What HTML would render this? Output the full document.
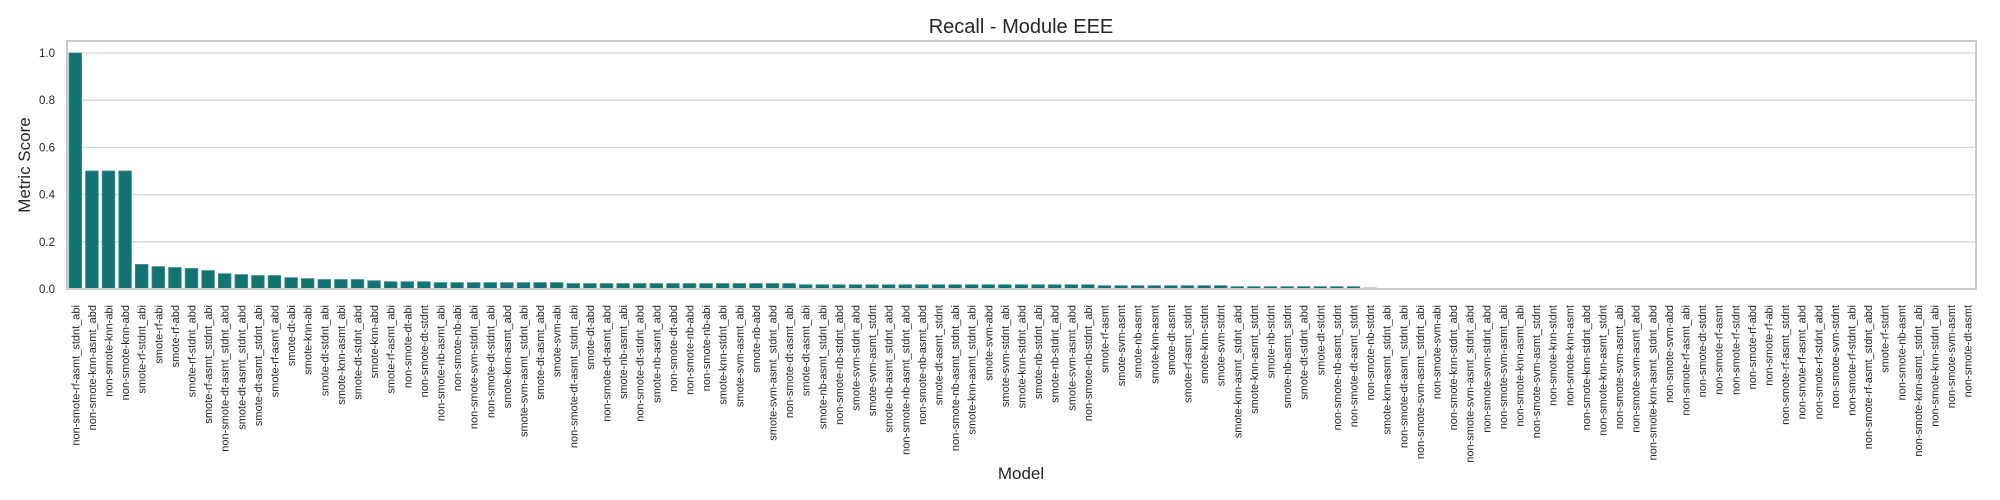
<!DOCTYPE html>
<html><head><meta charset="utf-8">
<style>
html,body{margin:0;padding:0;background:#fff;}
svg{display:block;font-family:"Liberation Sans",Arial,sans-serif;}
</style></head>
<body>
<svg id="chart" width="2000" height="500" viewBox="0 0 2000 500" xmlns="http://www.w3.org/2000/svg">
  <rect x="0" y="0" width="2000" height="500" fill="#ffffff"/>
  <g id="grid"></g>
  <g id="bars"></g>
  <rect x="67" y="41" width="1909" height="248" fill="none" stroke="#cccccc" stroke-width="2"/>
  <g id="yticks"></g>
  <g id="xticks"></g>
  <text x="1021" y="33" text-anchor="middle" font-size="20" fill="#262626">Recall - Module EEE</text>
  <text transform="translate(30,165) rotate(-90)" text-anchor="middle" font-size="17" fill="#262626">Metric Score</text>
  <text x="1021" y="479" text-anchor="middle" font-size="17" fill="#262626">Model</text>
</svg>
<script>
const categories = [
"non-smote-rf-asmt_stdnt_abi","non-smote-knn-asmt_abd","non-smote-knn-abi","non-smote-knn-abd","smote-rf-stdnt_abi",
"smote-rf-abi","smote-rf-abd","smote-rf-stdnt_abd","smote-rf-asmt_stdnt_abi","non-smote-dt-asmt_stdnt_abd",
"smote-dt-asmt_stdnt_abd","smote-dt-asmt_stdnt_abi","smote-rf-asmt_abd","smote-dt-abi","smote-knn-abi",
"smote-dt-stdnt_abi","smote-knn-asmt_abi","smote-dt-stdnt_abd","smote-knn-abd","smote-rf-asmt_abi",
"non-smote-dt-abi","non-smote-dt-stdnt","non-smote-nb-asmt_abi","non-smote-nb-abi","non-smote-svm-stdnt_abi",
"non-smote-dt-stdnt_abi","smote-knn-asmt_abd","smote-svm-asmt_stdnt_abi","smote-dt-asmt_abd","smote-svm-abi",
"non-smote-dt-asmt_stdnt_abi","smote-dt-abd","non-smote-dt-asmt_abd","smote-nb-asmt_abi","non-smote-dt-stdnt_abd",
"smote-nb-asmt_abd","non-smote-dt-abd","non-smote-nb-abd","non-smote-nb-abi","smote-knn-stdnt_abi",
"smote-svm-asmt_abi","smote-nb-abd","smote-svm-asmt_stdnt_abd","non-smote-dt-asmt_abi","smote-dt-asmt_abi",
"smote-nb-asmt_stdnt_abi","non-smote-nb-stdnt_abd","smote-svm-stdnt_abd","smote-svm-asmt_stdnt","smote-nb-asmt_stdnt_abd",
"non-smote-nb-asmt_stdnt_abd","non-smote-nb-asmt_abd","smote-dt-asmt_stdnt","non-smote-nb-asmt_stdnt_abi","smote-knn-asmt_stdnt_abi",
"smote-svm-abd","smote-svm-stdnt_abi","smote-knn-stdnt_abd","smote-nb-stdnt_abi","smote-nb-stdnt_abd",
"smote-svm-asmt_abd","non-smote-nb-stdnt_abi","smote-rf-asmt","smote-svm-asmt","smote-nb-asmt",
"smote-knn-asmt","smote-dt-asmt","smote-rf-asmt_stdnt","smote-knn-stdnt","smote-svm-stdnt",
"smote-knn-asmt_stdnt_abd","smote-knn-asmt_stdnt","smote-nb-stdnt","smote-nb-asmt_stdnt","smote-dt-stdnt_abd2",
"smote-dt-stdnt","non-smote-nb-asmt_stdnt","non-smote-dt-asmt_stdnt","non-smote-nb-stdnt","smote-knn-asmt_stdnt_abi2",
"non-smote-dt-asmt_stdnt_abi2","non-smote-svm-asmt_stdnt_abi","non-smote-svm-abi","non-smote-knn-stdnt_abd","non-smote-svm-asmt_stdnt_abd",
"non-smote-svm-stdnt_abd","non-smote-svm-asmt_abi","non-smote-knn-asmt_abi","non-smote-svm-asmt_stdnt","non-smote-knn-stdnt",
"non-smote-knn-asmt","non-smote-knn-stdnt_abd2","non-smote-knn-asmt_stdnt","non-smote-svm-asmt_abi2","non-smote-svm-asmt_abd",
"non-smote-knn-asmt_stdnt_abd","non-smote-svm-abd","non-smote-rf-asmt_abi","non-smote-dt-stdnt2","non-smote-rf-asmt",
"non-smote-rf-stdnt","non-smote-rf-abd","non-smote-rf-abi","non-smote-rf-asmt_stdnt","non-smote-rf-asmt_abd",
"non-smote-rf-stdnt_abd","non-smote-svm-stdnt","non-smote-rf-stdnt_abi","non-smote-rf-asmt_stdnt_abd","smote-rf-stdnt",
"non-smote-nb-asmt","non-smote-knn-asmt_stdnt_abi","non-smote-knn-stdnt_abi","non-smote-svm-asmt","non-smote-dt-asmt"
];
const recallValues = [
1.0,0.5,0.5,0.5,0.104,0.095,0.091,0.087,0.078,0.065,
0.061,0.057,0.057,0.048,0.044,0.040,0.040,0.040,0.035,0.031,
0.031,0.031,0.027,0.027,0.027,0.027,0.027,0.027,0.027,0.027,
0.023,0.023,0.023,0.023,0.023,0.023,0.023,0.023,0.023,0.023,
0.023,0.023,0.023,0.023,0.018,0.018,0.018,0.018,0.018,0.018,
0.018,0.018,0.018,0.018,0.018,0.018,0.018,0.018,0.018,0.018,
0.018,0.018,0.014,0.014,0.014,0.014,0.014,0.014,0.014,0.014,
0.010,0.010,0.010,0.010,0.010,0.010,0.010,0.010,0.004,0,
0,0,0,0,0,0,0,0,0,0,
0,0,0,0,0,0,0,0,0,0,
0,0,0,0,0,0,0,0,0,0,
0,0,0,0
];
const yTickValues = [0,0.2,0.4,0.6,0.8,1.0];
const yTickLabels = ["0.0","0.2","0.4","0.6","0.8","1.0"];

const NS = "http://www.w3.org/2000/svg";
const plotL = 67, plotR = 1976, y0 = 289, y1 = 53;
const n = categories.length;
const step = (plotR - plotL) / n;
function xScale(i){ return plotL + step * (i + 0.5); }
function yScale(v){ return y0 - (y0 - y1) * v; }

const grid = document.getElementById('grid');
const yt = document.getElementById('yticks');
yTickValues.forEach((v, k) => {
  const y = yScale(v);
  const ln = document.createElementNS(NS, 'line');
  
  
  ln.setAttribute('x1', plotL); ln.setAttribute('x2', plotR);
  ln.setAttribute('y1', y); ln.setAttribute('y2', y);
  ln.setAttribute('stroke', '#d6d6d6'); ln.setAttribute('stroke-width', '1.3');
  grid.appendChild(ln);
  const t = document.createElementNS(NS, 'text');
  
  
  t.setAttribute('x', 55); t.setAttribute('y', y + 4);
  t.setAttribute('text-anchor', 'end'); t.setAttribute('font-size', '11.5');
  t.setAttribute('fill', '#262626');
  t.textContent = yTickLabels[k];
  yt.appendChild(t);
});

const bars = document.getElementById('bars');
const xt = document.getElementById('xticks');
const bw = step * 0.76;
categories.forEach((c, i) => {
  const v = recallValues[i];
  const cx = xScale(i);
  if (v > 0) {
    const r = document.createElementNS(NS, 'rect');
    
    
    r.setAttribute('x', cx - bw / 2); r.setAttribute('width', bw);
    r.setAttribute('y', yScale(v)); r.setAttribute('height', y0 - yScale(v));
    r.setAttribute('fill', '#137272'); r.setAttribute('stroke', '#3a9090'); r.setAttribute('stroke-width', '0.8');
    bars.appendChild(r);
  }
  const t = document.createElementNS(NS, 'text');
  
  
  t.setAttribute('transform', 'translate(' + (cx + 4) + ',305) rotate(-90)');
  t.setAttribute('text-anchor', 'end'); t.setAttribute('font-size', '11');
  t.setAttribute('fill', '#262626');
  t.textContent = c.replace(/2$/, '');
  xt.appendChild(t);
});
</script>
</body></html>
